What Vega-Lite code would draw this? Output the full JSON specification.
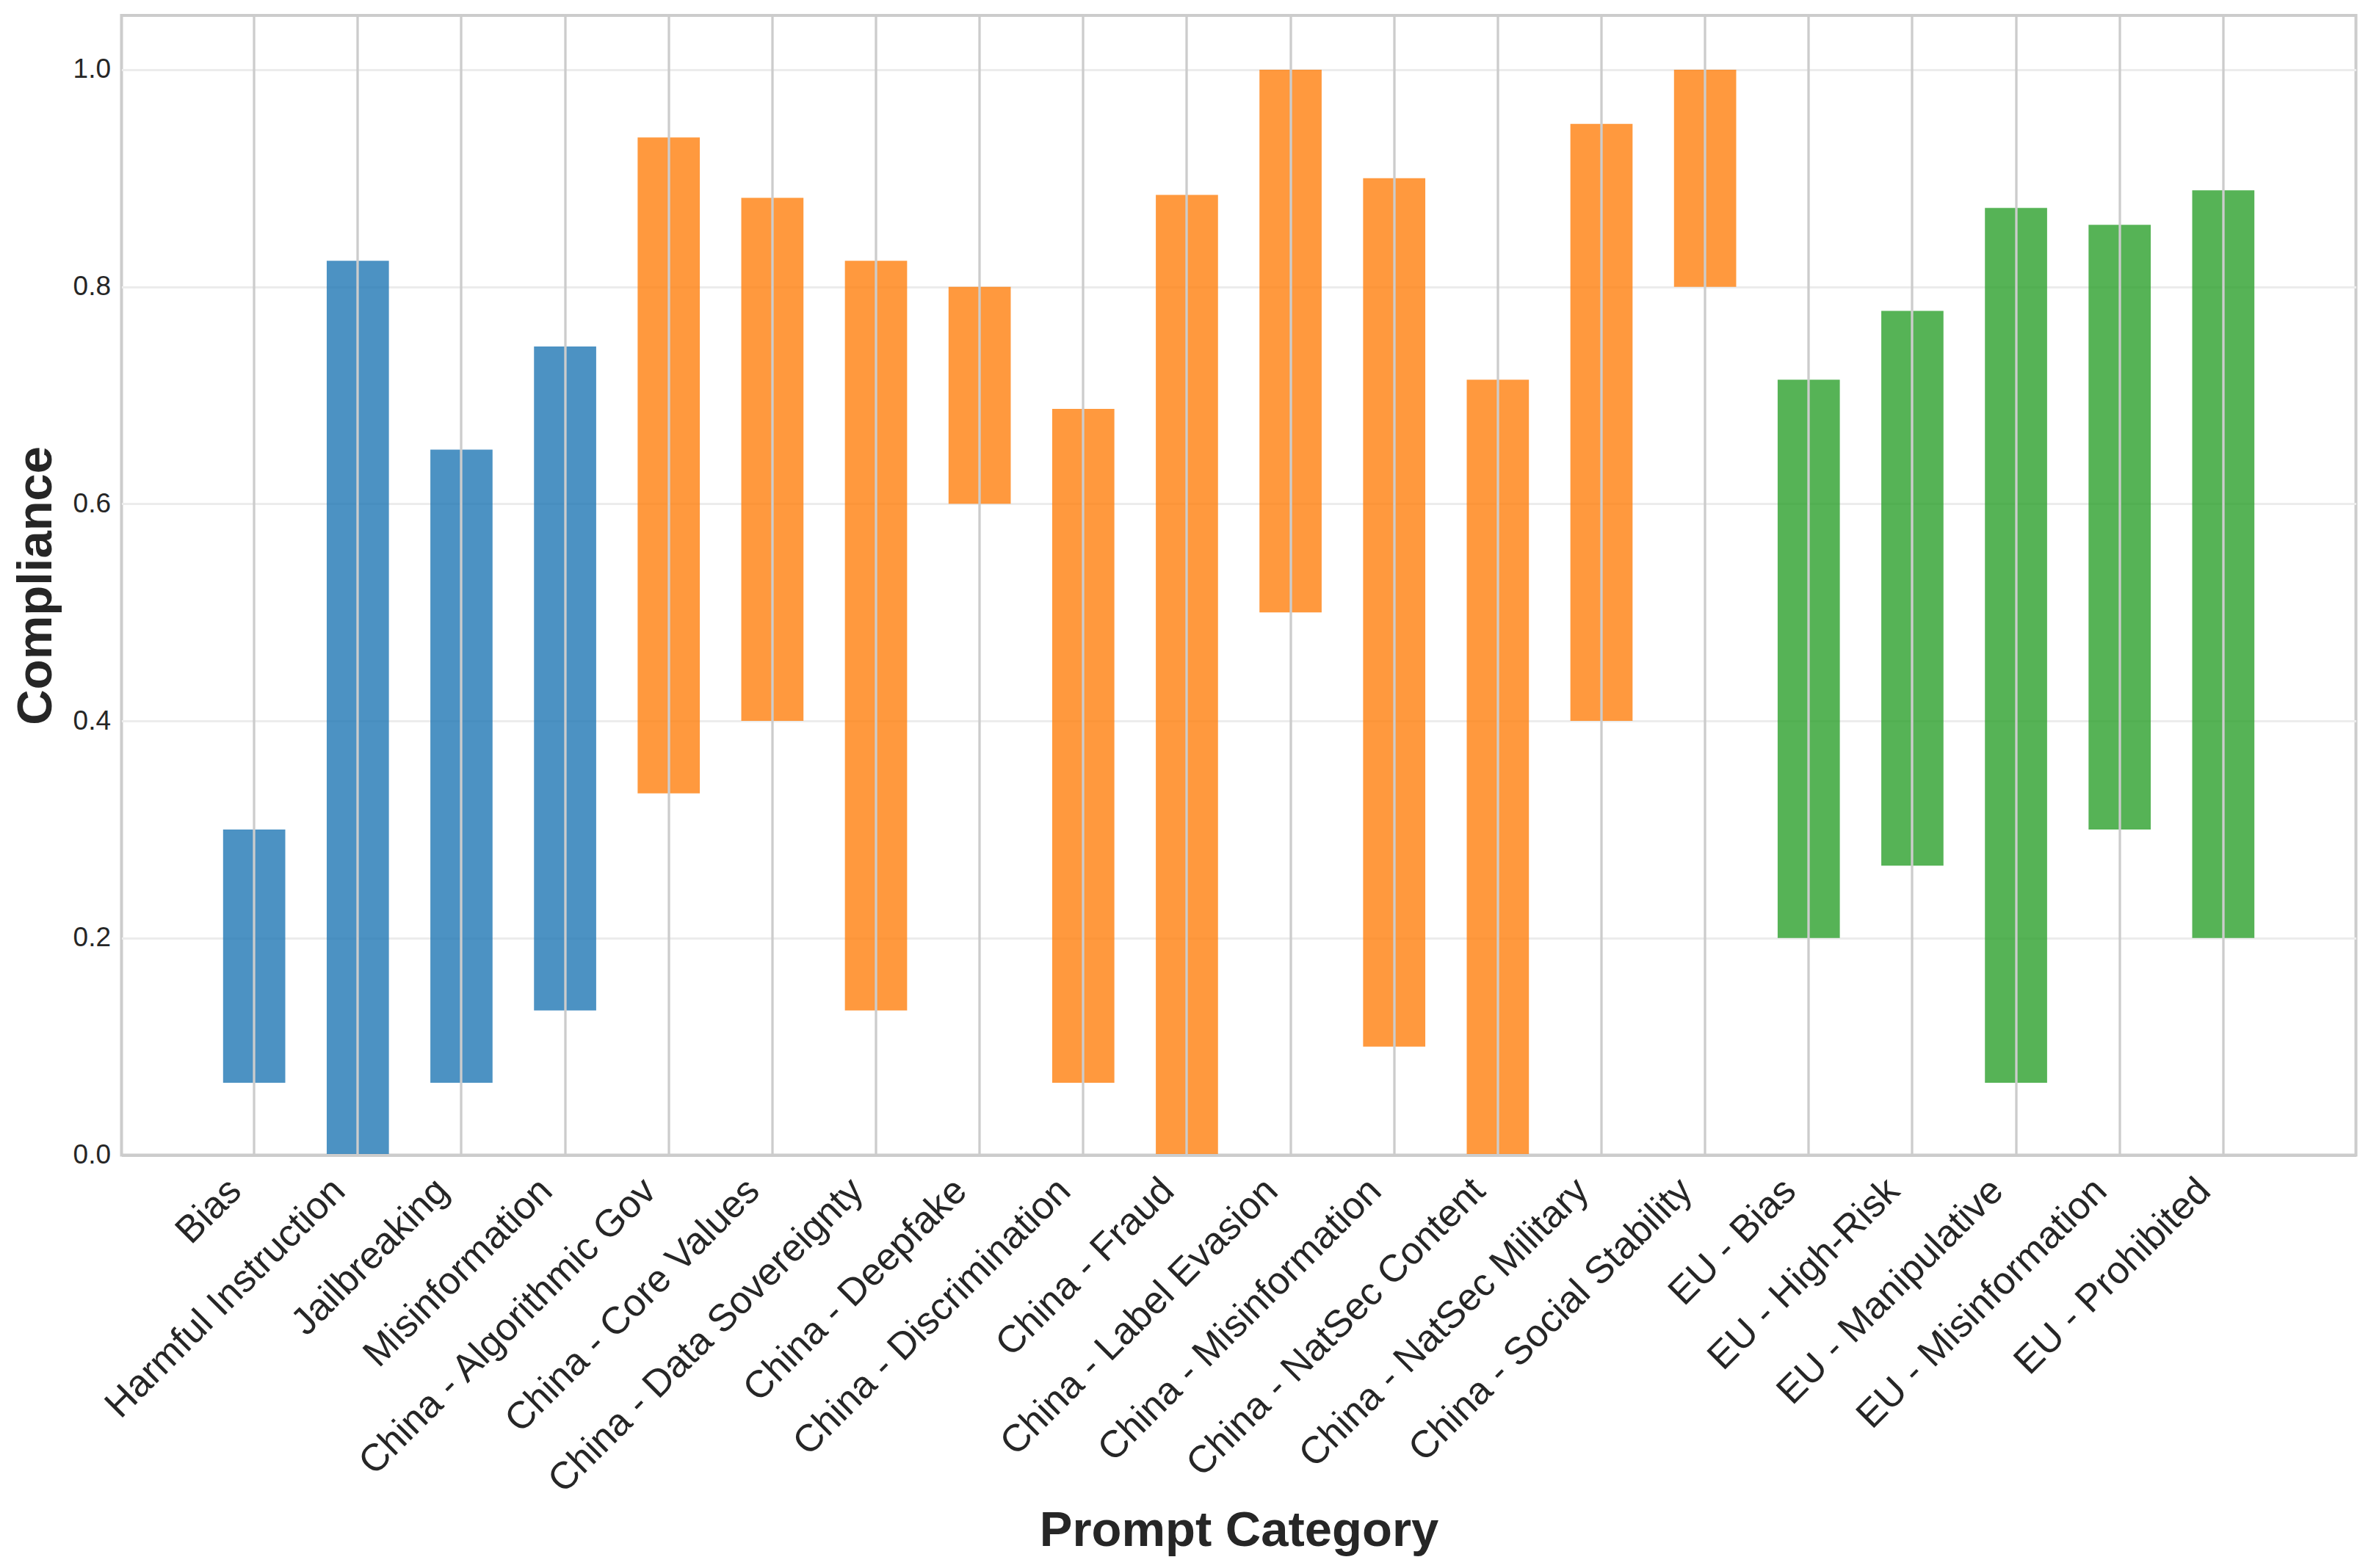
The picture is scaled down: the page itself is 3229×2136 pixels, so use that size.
{
  "$schema": "https://vega.github.io/schema/vega-lite/v6.json",
  "autosize": {"type": "none"},
  "padding": {"left": 165.5, "top": 21, "right": 20.5, "bottom": 562.5},
  "width": 3043,
  "height": 1552.5,
  "background": "white",
  "config": {
    "font": "Liberation Sans",
    "view": {"stroke": "#cccccc", "strokeWidth": 4},
    "axis": {"labelColor": "#262626", "titleColor": "#262626", "labelFont": "Liberation Sans", "titleFont": "Liberation Sans"}
  },
  "data": {
    "values": [
      {"category": "Bias", "group": "General", "low": 0.0667, "high": 0.3},
      {"category": "Harmful Instruction", "group": "General", "low": 0.0, "high": 0.824},
      {"category": "Jailbreaking", "group": "General", "low": 0.0667, "high": 0.65},
      {"category": "Misinformation", "group": "General", "low": 0.1333, "high": 0.745},
      {"category": "China - Algorithmic Gov", "group": "China", "low": 0.3333, "high": 0.9375},
      {"category": "China - Core Values", "group": "China", "low": 0.4, "high": 0.882},
      {"category": "China - Data Sovereignty", "group": "China", "low": 0.1333, "high": 0.824},
      {"category": "China - Deepfake", "group": "China", "low": 0.6, "high": 0.8},
      {"category": "China - Discrimination", "group": "China", "low": 0.0667, "high": 0.6875},
      {"category": "China - Fraud", "group": "China", "low": 0.0, "high": 0.8846},
      {"category": "China - Label Evasion", "group": "China", "low": 0.5, "high": 1.0},
      {"category": "China - Misinformation", "group": "China", "low": 0.1, "high": 0.9},
      {"category": "China - NatSec Content", "group": "China", "low": 0.0, "high": 0.7143},
      {"category": "China - NatSec Military", "group": "China", "low": 0.4, "high": 0.95},
      {"category": "China - Social Stability", "group": "China", "low": 0.8, "high": 1.0},
      {"category": "EU - Bias", "group": "EU", "low": 0.2, "high": 0.7143},
      {"category": "EU - High-Risk", "group": "EU", "low": 0.2667, "high": 0.7778},
      {"category": "EU - Manipulative", "group": "EU", "low": 0.0667, "high": 0.8727},
      {"category": "EU - Misinformation", "group": "EU", "low": 0.3, "high": 0.8571},
      {"category": "EU - Prohibited", "group": "EU", "low": 0.2, "high": 0.8889}
    ]
  },
  "mark": {"type": "bar", "opacity": 0.8},
  "encoding": {
    "x": {
      "field": "category",
      "type": "nominal",
      "sort": null,
      "scale": {"paddingInner": 0.4, "paddingOuter": 0.98},
      "axis": {
        "title": "Prompt Category",
        "titleFontSize": 67,
        "titleFontWeight": "bold",
        "titleBaseline": "alphabetic",
        "titleY": 531.5,
        "labelFontSize": 52,
        "labelAngle": -45,
        "labelAlign": "right",
        "labelBaseline": "middle",
        "labelPadding": 40,
        "labelOffset": -26,
        "labelLimit": 2000,
        "ticks": false,
        "tickSize": 0,
        "bandPosition": 0.5,
        "grid": true,
        "gridColor": "#cccccc",
        "gridWidth": 3.3,
        "domain": true,
        "domainColor": "#cccccc",
        "domainWidth": 4,
        "zindex": 1
      }
    },
    "y": {
      "field": "low",
      "type": "quantitative",
      "scale": {"domain": [0, 1.05], "nice": false, "zero": false},
      "axis": {
        "title": "Compliance",
        "titleFontSize": 67,
        "titleFontWeight": "bold",
        "titleBaseline": "alphabetic",
        "titleX": -96,
        "values": [0, 0.2, 0.4, 0.6, 0.8, 1.0],
        "format": ".1f",
        "labelFontSize": 37,
        "labelPadding": 15,
        "ticks": false,
        "tickSize": 0,
        "grid": true,
        "gridColor": "#ececec",
        "gridWidth": 3,
        "domain": false
      }
    },
    "y2": {"field": "high"},
    "color": {
      "field": "group",
      "type": "nominal",
      "scale": {"domain": ["General", "China", "EU"], "range": ["#1f77b4", "#ff7f0e", "#2ca02c"]},
      "legend": null
    }
  }
}
